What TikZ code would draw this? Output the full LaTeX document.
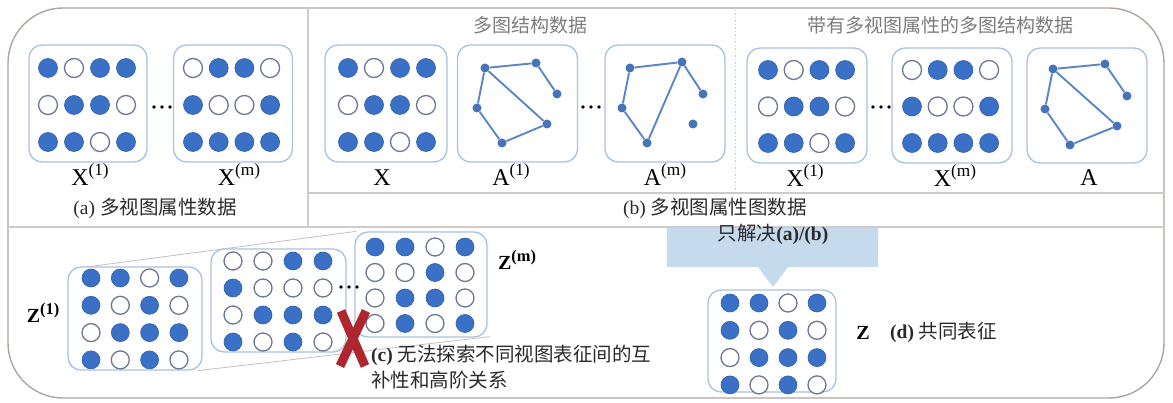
\documentclass[tikz,border=0pt]{standalone}
\usepackage{fontspec}
\setmainfont{Liberation Serif}
\newfontfamily\cjk{Noto Sans CJK SC}
\usetikzlibrary{backgrounds}

\definecolor{dotblue}{HTML}{3A70C6}
\definecolor{dotedge}{HTML}{2F5FA8}
\definecolor{ringgray}{HTML}{6E7791}
\definecolor{boxblue}{HTML}{A9C2DE}
\definecolor{edgeblue}{HTML}{5B87C5}
\definecolor{nodeblue}{HTML}{4673BA}
\definecolor{framegray}{HTML}{ADA4A0}
\definecolor{rulegray}{HTML}{CFCBCB}
\definecolor{guidegray}{HTML}{C4BEBE}
\definecolor{bandblue}{HTML}{C6DAEE}
\definecolor{crossred}{HTML}{B0262E}
\definecolor{titlegray}{HTML}{7C7C7C}
\definecolor{ink}{HTML}{2A2A2A}

% matrix of feature dots: first column x, first row y, column step, row step, radius, rows
\newcommand\dotgrid[6]{%
  \foreach \row [count=\i from 0] in {#6} {
    \foreach \v [count=\j from 0] in \row {
      \path[d\v] ({#1+\j*#3},{#2+\i*#4}) circle[radius=#5pt];
    }
  }%
}
% matrix name with a view index in superscript
\newcommand\lbl[2]{#1\raisebox{0.42em}{\scalebox{0.72}{(#2)}}}
\newcommand\zlbl[2]{#1\raisebox{0.4em}{\scalebox{0.82}{(#2)}}}
% three dots between matrices
\newcommand\etc[2]{%
  \foreach \k in {-8,0,8} \fill[black] ({#1+\k},#2) circle[radius=1.9pt];%
}

\begin{document}
\begin{tikzpicture}[x=1pt,y=-1pt,
  d1/.style={fill=dotblue,draw=dotedge,line width=0.6pt},
  d0/.style={fill=white,draw=ringgray,line width=1.3pt},
  box/.style={draw=boxblue,line width=1.3pt,rounded corners=13pt,fill=white,inner sep=0pt},
  rule/.style={draw=rulegray,line width=1.2pt},
  guide/.style={draw=guidegray,line width=0.8pt},
  gedge/.style={draw=edgeblue,line width=1.9pt},
  gnode/.style={circle,fill=nodeblue,inner sep=0pt,minimum size=9pt},
  lab/.style={inner sep=0pt,anchor=base,text=black,font=\fontsize{24}{28}\selectfont},
  zlab/.style={inner sep=0pt,anchor=base,text=black,font=\fontsize{20}{24}\selectfont\bfseries},
  captxt/.style={inner sep=0pt,text=ink,font=\fontsize{19.5}{23}\selectfont},
  ttl/.style={inner sep=0pt,text=titlegray,font=\fontsize{19}{23}\selectfont\cjk}]

\useasboundingbox (0,0) rectangle (1173,403);

% outer frame and panel dividers
\draw[framegray,line width=1.4pt,rounded corners=55pt] (8,8) rectangle (1164,398);
\coordinate (vtop) at (308,8);
\coordinate (vbot) at (308,227);
\coordinate (hl) at (8,227);
\coordinate (hr) at (1164,227);
\coordinate (bl) at (308,193);
\coordinate (br) at (1164,193);
\coordinate (dtop) at (735,10);
\coordinate (dbot) at (735,193);
\draw[rule] (vtop) -- (vbot);
\draw[rule] (hl) -- (hr);
\draw[rule] (bl) -- (br);
\draw[rulegray,line width=1pt,dash pattern=on 1.5pt off 2pt] (dtop) -- (dbot);

% ---------- (a) multi-view attribute data ----------
\node[box,minimum width=118pt,minimum height=117pt] (xa1) at (88,103.5) {};
\node[box,minimum width=119pt,minimum height=117pt] (xam) at (233,103.5) {};
\dotgrid{48}{68}{26}{37}{9.5}{{1,0,1,1},{0,1,1,0},{1,1,0,1}}
\dotgrid{193}{68}{25.7}{37}{9.5}{{0,1,1,0},{1,0,0,1},{1,1,1,1}}
\etc{162}{107}
\node[lab] (lxa1) at (90,186) {\lbl{X}{1}};
\node[lab] (lxam) at (239,186) {\lbl{X}{m}};
\node[captxt,anchor=base] (capa) at (155,215) {(a) {\cjk 多视图属性数据}};

% ---------- (b) multi-graph structure data ----------
\node[ttl] (ttlb) at (530,25) {多图结构数据};
\node[box,minimum width=122pt,minimum height=117pt] (xb) at (386,103.5) {};
\dotgrid{348}{68}{26}{37}{9.5}{{1,0,1,1},{0,1,1,0},{1,1,0,1}}
\node[lab] (lxb) at (382,186) {X};

\node[box,minimum width=120pt,minimum height=117pt] (ab1) at (517.5,103.5) {};
\node[gnode] (p1) at (485,68) {};
\node[gnode] (p2) at (536,63) {};
\node[gnode] (p3) at (557,94) {};
\node[gnode] (p4) at (477,108) {};
\node[gnode] (p5) at (547,124) {};
\node[gnode] (p6) at (502,143) {};
\draw[gedge] (p1) -- (p2) (p2) -- (p3) (p1) -- (p4) (p1) -- (p5) (p4) -- (p6) (p6) -- (p5);
\node[lab] (lab1) at (511,186) {\lbl{A}{1}};

\etc{591}{107}

\node[box,minimum width=120pt,minimum height=117pt] (abm) at (665,103.5) {};
\node[gnode] (q1) at (630,68) {};
\node[gnode] (q2) at (682,62) {};
\node[gnode] (q3) at (703,94) {};
\node[gnode] (q4) at (622,108) {};
\node[gnode] (q5) at (693,124) {};
\node[gnode] (q6) at (647,143) {};
\draw[gedge] (q1) -- (q2) (q2) -- (q3) (q1) -- (q4) (q4) -- (q6) (q6) -- (q2);
\node[lab] (labm) at (665,186) {\lbl{A}{m}};

% ---------- multi-graph data with multi-view attributes ----------
\node[ttl] (ttlc) at (940,25) {带有多视图属性的多图结构数据};
\node[box,minimum width=120pt,minimum height=115pt] (xc1) at (807,105.5) {};
\node[box,minimum width=120pt,minimum height=115pt] (xcm) at (952,105.5) {};
\dotgrid{768}{70}{25.7}{36.5}{9.5}{{1,0,1,1},{0,1,1,0},{1,1,0,1}}
\dotgrid{912}{70}{25.7}{36.5}{9.5}{{0,1,1,0},{1,0,0,1},{1,1,1,1}}
\etc{881}{107}
\node[lab] (lxc1) at (805,187) {\lbl{X}{1}};
\node[lab] (lxcm) at (955,187) {\lbl{X}{m}};

\node[box,minimum width=120pt,minimum height=115pt] (ac) at (1087,105.5) {};
\node[gnode] (r1) at (1053,69) {};
\node[gnode] (r2) at (1105,64) {};
\node[gnode] (r3) at (1127,96) {};
\node[gnode] (r4) at (1045,109) {};
\node[gnode] (r5) at (1117,126) {};
\node[gnode] (r6) at (1070,145) {};
\draw[gedge] (r1) -- (r2) (r2) -- (r3) (r1) -- (r4) (r1) -- (r5) (r4) -- (r6) (r6) -- (r5);
\node[lab] (lac) at (1089,186) {A};

\node[captxt,anchor=base] (capb) at (715,215) {(b) {\cjk 多视图属性图数据}};

% ---------- (c) separate view representations ----------
\node[box,minimum width=134pt,minimum height=103pt] (z1) at (135,318.5) {};
\node[box,minimum width=135pt,minimum height=103pt] (z2) at (278.5,300.5) {};
\node[box,minimum width=132pt,minimum height=105pt] (zm) at (421,284.5) {};
\begin{scope}[on background layer]
  \draw[guide] ([xshift=16pt,yshift=-1pt]z1.north west) -- ([xshift=2pt]zm.north west);
  \draw[guide] ([xshift=-5pt]z1.south east) -- ([xshift=2pt,yshift=1pt]zm.south east);
\end{scope}
\dotgrid{91}{278}{29.3}{27.3}{9}{{1,1,0,1},{1,0,1,0},{0,1,1,1},{1,0,1,0}}
\dotgrid{233}{261}{30}{27}{9}{{0,0,1,1},{1,0,0,0},{0,1,1,1},{1,0,1,0}}
\dotgrid{375}{247}{30}{25.5}{9}{{1,1,0,1},{0,0,1,0},{0,1,1,0},{0,1,0,1}}
\etc{349}{287}
\node[zlab] (lz1) at (43,323) {\zlbl{Z}{1}};
\node[zlab] (lzm) at (517,270) {\zlbl{Z}{m}};

% red cross over the separate representations
\draw[crossred,line width=9pt] (341,311) -- (365,366);
\draw[crossred,line width=9pt] (366,311) -- (340,366);

\node[captxt,anchor=base west] (capc1) at (371,362) {\textbf{(c)} {\cjk 无法探索不同视图表征间的互}};
\node[captxt,anchor=base west] (capc2) at (371,387) {\cjk 补性和高阶关系};

% ---------- (d) common representation ----------
\fill[bandblue] (667,228) -- (878,228) -- (878,267) -- (788,267) -- (773,287)
  -- (758,267) -- (667,267) -- cycle;
\node[captxt,anchor=base] (band) at (773,241) {{\cjk 只解决}\textbf{(a)/(b)}};

\node[box,minimum width=128pt,minimum height=102pt] (z) at (772,341) {};
\dotgrid{730}{303}{29}{27.3}{9}{{1,1,0,1},{1,0,1,0},{0,1,1,1},{1,0,1,0}}
\node[zlab] (lz) at (863,340) {Z};
\node[captxt,anchor=base west] (capd) at (890,339) {\textbf{(d)} {\cjk 共同表征}};

\end{tikzpicture}
\end{document}
